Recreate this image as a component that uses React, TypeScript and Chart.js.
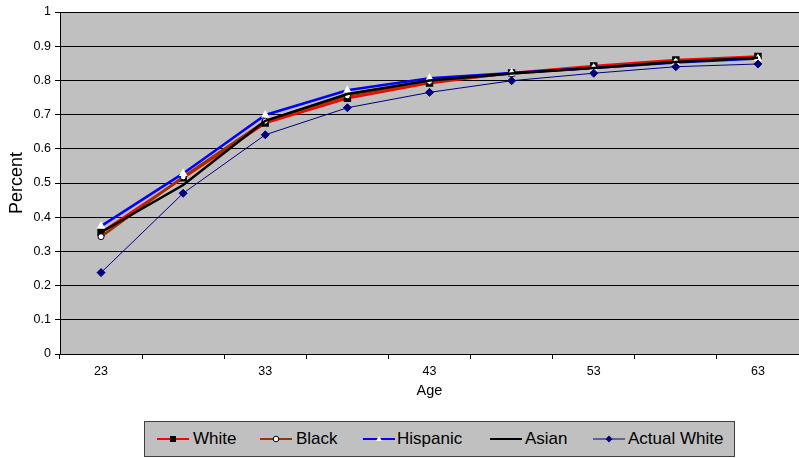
import React, { useEffect, useRef } from "react";
import { Chart, registerables, Plugin } from "chart.js";

Chart.register(...registerables);

const ages = ["23", "28", "33", "38", "43", "48", "53", "58", "63"];
const white = [0.355, 0.515, 0.675, 0.748, 0.792, 0.822, 0.842, 0.86, 0.87];
const black = [0.343, 0.518, 0.681, 0.755, 0.797, 0.82, 0.838, 0.856, 0.866];
const hispanic = [0.374, 0.528, 0.699, 0.771, 0.806, 0.822, 0.836, 0.852, 0.864];
const asian = [0.356, 0.494, 0.682, 0.76, 0.8, 0.82, 0.836, 0.854, 0.866];
const actualWhite = [0.238, 0.47, 0.641, 0.72, 0.765, 0.799, 0.821, 0.84, 0.848];

const FONT = "'Liberation Sans', Arial, sans-serif";

// grey plot area like the old Excel charts
const plotBackground: Plugin<"line"> = {
    id: "plotBackground",
    beforeDraw: (chart) => {
        const { ctx, chartArea } = chart;
        ctx.save();
        ctx.fillStyle = "#C0C0C0";
        ctx.fillRect(chartArea.left, chartArea.top, chartArea.right - chartArea.left, chartArea.bottom - chartArea.top);
        ctx.restore();
    },
};

const legendItems = [
    { label: "White", color: "#FF0000", marker: "square", lineX: 157, textX: 193 },
    { label: "Black", color: "#993300", marker: "circle", lineX: 260, textX: 296 },
    { label: "Hispanic", color: "#0000FF", marker: "triangle", lineX: 363, textX: 397 },
    { label: "Asian", color: "#000000", marker: "none", lineX: 490, textX: 525 },
    { label: "Actual White", color: "#000080", marker: "diamond", lineX: 593, textX: 628 },
];

const LEGEND_LEFT = 144;
const LEGEND_TOP = 421;

const Marker: React.FC<{ type: string }> = ({ type }) => {
    if (type === "square") return <rect x={13} y={2} width={6} height={6} fill="#000" />;
    if (type === "circle") return <circle cx={16} cy={5} r={2.8} fill="#fff" stroke="#000" strokeWidth={1} />;
    if (type === "triangle") return <polygon points="16,2 19,7 13,7" fill="#fff" />;
    if (type === "diamond") return <polygon points="16,1.5 19.5,5 16,8.5 12.5,5" fill="#000080" />;
    return null;
};

const App: React.FC = () => {
    const canvasRef = useRef<HTMLCanvasElement | null>(null);
    const chartRef = useRef<Chart<"line", number[], string> | null>(null);

    useEffect(() => {
        if (chartRef.current) {
            chartRef.current.destroy();
        }
        if (!canvasRef.current) return;

        chartRef.current = new Chart(canvasRef.current, {
            type: "line",
            data: {
                labels: ages,
                datasets: [
                    {
                        label: "White",
                        data: white,
                        borderColor: "#FF0000",
                        borderWidth: 2.5,
                        pointStyle: "rect",
                        pointRadius: 3.5,
                        pointBackgroundColor: "#000",
                        pointBorderColor: "#000",
                        order: 5,
                    },
                    {
                        label: "Black",
                        data: black,
                        borderColor: "#993300",
                        borderWidth: 2.5,
                        pointStyle: "circle",
                        pointRadius: 3,
                        pointBackgroundColor: "#fff",
                        pointBorderColor: "#000",
                        pointBorderWidth: 1,
                        order: 4,
                    },
                    {
                        label: "Hispanic",
                        data: hispanic,
                        borderColor: "#0000FF",
                        borderWidth: 2.5,
                        pointStyle: "triangle",
                        pointRadius: 2.5,
                        pointBackgroundColor: "#fff",
                        pointBorderColor: "#fff",
                        order: 3,
                    },
                    {
                        label: "Asian",
                        data: asian,
                        borderColor: "#000000",
                        borderWidth: 2.5,
                        pointRadius: 0,
                        order: 2,
                    },
                    {
                        label: "Actual White",
                        data: actualWhite,
                        borderColor: "#000080",
                        borderWidth: 1,
                        pointStyle: "rectRot",
                        pointRadius: 4,
                        pointBackgroundColor: "#000080",
                        pointBorderColor: "#000080",
                        order: 1,
                    },
                ],
            },
            options: {
                responsive: false,
                animation: false,
                layout: {
                    autoPadding: false,
                    padding: { top: 12, bottom: 58, left: 0, right: 0 },
                },
                elements: {
                    line: { tension: 0 },
                },
                plugins: {
                    legend: { display: false },
                    tooltip: { enabled: false },
                },
                scales: {
                    x: {
                        offset: true,
                        grid: {
                            offset: true,
                            drawOnChartArea: false,
                            color: "#000",
                            tickLength: 5,
                        },
                        border: { color: "#000", width: 1 },
                        ticks: {
                            autoSkip: false,
                            maxRotation: 0,
                            padding: 5,
                            color: "#000",
                            font: { family: FONT, size: 12.5 },
                            callback: (_v, i) => (i % 2 === 0 ? ages[i] : ""),
                        },
                        title: {
                            display: true,
                            text: "Age",
                            color: "#000",
                            font: { family: FONT, size: 14.5 },
                            padding: 0,
                        },
                        afterFit: (scale) => {
                            scale.height = 46;
                        },
                    },
                    y: {
                        min: 0,
                        max: 1,
                        grid: {
                            color: "#000",
                            lineWidth: 1,
                            tickLength: 5,
                        },
                        border: { color: "#000", width: 1 },
                        ticks: {
                            stepSize: 0.1,
                            padding: 4,
                            color: "#000",
                            font: { family: FONT, size: 12.5 },
                            callback: (v) => String(Number(Number(v).toFixed(1))),
                        },
                        title: {
                            display: true,
                            text: "Percent",
                            color: "#000",
                            font: { family: FONT, size: 18 },
                            padding: { top: 6, bottom: 0 },
                        },
                        afterFit: (scale) => {
                            scale.width = 60;
                        },
                    },
                },
            },
            plugins: [plotBackground],
        });

        return () => {
            if (chartRef.current) {
                chartRef.current.destroy();
                chartRef.current = null;
            }
        };
    }, []);

    return (
        <div style={{ position: "absolute", left: 0, top: 0, width: 799, height: 458, background: "#fff" }}>
            <canvas ref={canvasRef} width={799} height={458} style={{ display: "block", width: 799, height: 458 }} />
            <div
                style={{
                    position: "absolute",
                    left: LEGEND_LEFT,
                    top: LEGEND_TOP,
                    width: 591,
                    height: 36,
                    boxSizing: "border-box",
                    border: "1px solid #404040",
                    background: "#C0C0C0",
                    fontFamily: FONT,
                    fontSize: 17,
                    color: "#000",
                }}
            >
                {legendItems.map((item) => (
                    <React.Fragment key={item.label}>
                        <svg
                            width={32}
                            height={10}
                            style={{ position: "absolute", left: item.lineX - LEGEND_LEFT - 1, top: 439 - 5 - LEGEND_TOP - 1 }}
                        >
                            <line x1={0} y1={5} x2={32} y2={5} stroke={item.color} strokeWidth={item.marker === "diamond" ? 1 : 2} />
                            <Marker type={item.marker} />
                        </svg>
                        <span
                            style={{
                                position: "absolute",
                                left: item.textX - LEGEND_LEFT - 1,
                                top: 429 - LEGEND_TOP - 1,
                                lineHeight: "20px",
                                whiteSpace: "nowrap",
                            }}
                        >
                            {item.label}
                        </span>
                    </React.Fragment>
                ))}
            </div>
        </div>
    );
};

export default App;
